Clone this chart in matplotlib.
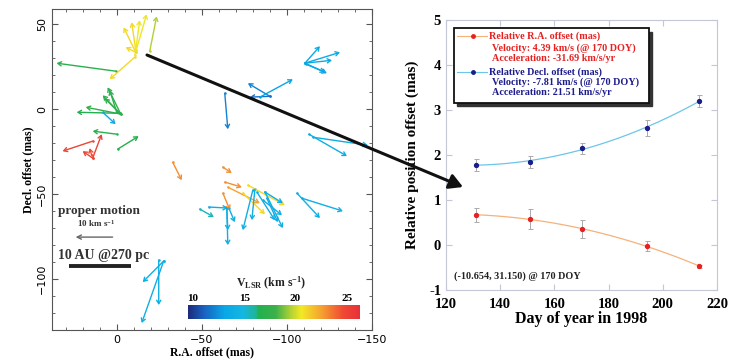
import matplotlib
matplotlib.use('Agg')
import matplotlib.pyplot as plt
import numpy as np
from matplotlib.colors import LinearSegmentedColormap, Normalize
from matplotlib.patches import Rectangle
from matplotlib.lines import Line2D
from matplotlib.ticker import MultipleLocator, FuncFormatter

plt.rcParams['mathtext.fontset'] = 'custom'
plt.rcParams['mathtext.rm'] = 'Liberation Serif:bold'
plt.rcParams['mathtext.bf'] = 'Liberation Serif:bold'
plt.rcParams['mathtext.it'] = 'Liberation Serif:bold'

# ── DATA: maser proper motions (mas), start -> arrow tip, colour = V_LSR ──
ra0 = [-11.2, -11.2, -11.2, -10.6, -11.2, -10.6, -19.4,
       0.6, -2.4, -1.8, -1.8, -2.4, -1.8, 0.0, 8.2, 0.0, -0.6,
       14.1, 14.1, 14.1, 14.7,
       -32.9, -62.4, -63.5, -65.3, -62.4, -77.1, -74.1,
       -48.8, -54.1, -64.7, -64.7, -65.9,
       -80.0, -81.2, -82.4, -87.1, -88.2, -87.1, -85.9,
       -105.9, -108.8,
       -63.5, -90.0, -90.0, -84.1,
       -110.6, -110.6, -110.6, -110.6, -111.2,
       -112.9, -115.3,
       -27.6, -24.7, -27.6]
dec0 = [33.5, 34.7, 34.7, 31.8, 33.5, 30.6, 34.1,
        22.4, -2.9, -2.4, -2.4, -2.9, -2.4, -1.8, -1.8, -14.7, -23.5,
        -18.8, -28.8, -28.8, -27.1,
        -31.2, -34.1, -42.9, -45.9, -49.4, -44.7, -49.4,
        -58.8, -57.6, -58.2, -58.2, -58.2,
        -47.6, -47.1, -48.8, -48.8, -52.4, -48.8, -53.5,
        -49.4, -52.4,
        9.4, 7.6, 7.6, 7.1,
        27.1, 27.1, 27.1, 27.1, 26.5,
        -14.7, -16.5,
        -89.4, -88.8, -89.4]
ra1 = [-4.1, -8.8, -13.5, -17.6, -5.3, 4.1, -23.5,
       35.3, 5.3, 8.2, 7.1, 18.2, 23.5, 4.1, 0.6, 14.1, -12.9,
       31.8, 8.8, 20.0, 15.9,
       -38.2, -67.6, -73.5, -84.1, -66.5, -98.8, -87.1,
       -57.1, -65.3, -65.3, -65.3, -69.4,
       -74.1, -79.4, -92.9, -97.6, -94.7, -97.6, -97.1,
       -119.4, -132.9,
       -65.3, -77.1, -78.2, -103.5,
       -119.4, -131.2, -126.5, -123.5, -122.4,
       -135.3, -147.6,
       -14.7, -24.7, -15.3]
dec1 = [48.2, 51.2, 52.4, 55.9, 36.5, 17.6, 54.7,
        27.1, 12.9, 8.2, 6.5, 1.2, -1.8, 11.2, -8.8, -12.9, -15.9,
        -24.7, -14.7, -24.7, -22.9,
        -41.8, -37.6, -45.9, -55.3, -59.4, -56.5, -61.8,
        -63.5, -58.2, -80.0, -71.2, -66.5,
        -71.2, -65.3, -65.3, -70.0, -66.5, -55.3, -62.4,
        -64.1, -60.0,
        -11.8, 15.3, 7.1, 17.6,
        37.1, 33.5, 28.8, 21.2, 21.8,
        -27.6, -21.2,
        -125.9, -115.3, -101.8]
vlsr = [21, 21, 20.5, 20.5, 21, 21, 19.5,
        17, 17, 17, 17.5, 17, 16.5, 17, 13.5, 17, 16.5,
        25, 25, 25, 24.5,
        23, 23, 23, 22.5, 23, 21, 21,
        15.5, 14, 14, 14, 14,
        14, 14, 14, 14, 14, 14, 14,
        14, 14,
        12, 12, 11.5, 13,
        13.5, 13.5, 13.5, 13, 13.2,
        13.8, 13.8,
        14, 14, 14]

# ── DATA: relative position offsets of the (-10.654, 31.150) spot ──
doy = [131, 151, 170, 194, 213.5]
ra_off = [0.67, 0.58, 0.35, -0.02, -0.47]
ra_err = [0.15, 0.23, 0.20, 0.12, 0.03]
dec_off = [1.78, 1.85, 2.15, 2.60, 3.20]
dec_err = [0.13, 0.13, 0.12, 0.18, 0.14]

W, H = 745, 361
fig = plt.figure(figsize=(W / 100, H / 100), dpi=100)
SERIF = 'Liberation Serif'

def fx(px):
    return px / W

def fy(py):
    return 1 - py / H

# ── LEFT: proper motion map ─────────────────────────────────
cmap = LinearSegmentedColormap.from_list('vlsr', [
    (0.00, '#1b2a7a'), (0.09, '#1860c0'), (0.21, '#0aa6e6'),
    (0.32, '#14b6e2'), (0.39, '#1fb59a'), (0.41, '#22b04e'),
    (0.51, '#3cb04a'), (0.60, '#b4d232'), (0.66, '#f2e925'),
    (0.78, '#f5a030'), (0.90, '#f04a33'), (1.00, '#e8303a')])
norm = Normalize(9.5, 26.3)

ax = fig.add_axes([fx(52), fy(330), fx(320), 321 / H])
for x0, y0, x1, y1, v in zip(ra0, dec0, ra1, dec1, vlsr):
    c = cmap(norm(v))
    ax.annotate('', xy=(x1, y1), xytext=(x0, y0),
                arrowprops=dict(arrowstyle='->,head_length=0.25,head_width=0.15',
                                color=c, lw=1.0, shrinkA=0, shrinkB=0))
    ax.plot(x0, y0, 'o', ms=1.8, color=c, mec='none')

ax.set_xlim(38, -150)
ax.set_ylim(-130, 59)
ax.xaxis.set_major_locator(MultipleLocator(50))
ax.xaxis.set_minor_locator(MultipleLocator(10))
ax.yaxis.set_major_locator(MultipleLocator(50))
ax.yaxis.set_minor_locator(MultipleLocator(10))
ax.tick_params(which='both', direction='in', top=True, right=True,
               labelsize=8, color='#555555')
ax.tick_params(which='major', length=4)
ax.tick_params(which='minor', length=2.5)
for lab in ax.get_yticklabels():
    lab.set_rotation(90)
    lab.set_va('center')
for s in ax.spines.values():
    s.set_color('#555555')
    s.set_linewidth(0.8)
ax.set_xlabel('R.A. offset (mas)', family=SERIF, fontweight='bold',
              fontsize=8.5, labelpad=1)
ax.set_ylabel('Decl. offset (mas)', family=SERIF, fontweight='bold',
              fontsize=8.5, labelpad=2)

ax.text(34.7, -60, 'proper motion', family=SERIF, fontweight='bold',
        fontsize=9.5, color='#333333', va='center')
ax.text(23.5, -67.5, r'10 km s$^{-1}$', family=SERIF, fontweight='bold',
        fontsize=6.5, color='#333333', va='center')
ax.annotate('', xy=(24.1, -75.3), xytext=(2.4, -75.3),
            arrowprops=dict(arrowstyle='->,head_length=0.3,head_width=0.15',
                            color='#666666', lw=1.0, shrinkA=0, shrinkB=0))
ax.text(34.7, -86, '10 AU @270 pc', family=SERIF, fontweight='bold',
        fontsize=10, color='#333333', va='center')
ax.plot([28.2, -8.2], [-92.4, -92.4], color='#222222', lw=2.8,
        solid_capstyle='butt')

cax = fig.add_axes([fx(188), fy(319), fx(172), 14 / H])
sm = matplotlib.cm.ScalarMappable(norm=norm, cmap=cmap)
cb = fig.colorbar(sm, cax=cax, orientation='horizontal')
cb.outline.set_visible(False)
cb.set_ticks([10, 15, 20, 25])
cax.xaxis.set_ticks_position('top')
cax.tick_params(length=0, pad=1.5, labelsize=8)
for lab in cax.get_xticklabels():
    lab.set_family(SERIF)
    lab.set_fontweight('bold')
fig.text(fx(271), fy(283), r'V$_{\rm LSR}$ (km s$^{-1}$)', family=SERIF,
         fontweight='bold', fontsize=8.5, ha='center', va='center',
         color='#222222')

# ── RIGHT: offsets vs day of year ──────────────────────────
bx = fig.add_axes([fx(446), fy(290), fx(271), 270 / H])
red, navy = '#e82020', '#1c1c8c'
ra_line, dec_line = '#f5b27a', '#6cc6e8'

tt = np.linspace(min(doy), max(doy), 200)
ra_fit = np.polyval(np.polyfit(doy, ra_off, 2), tt)
dec_fit = np.polyval(np.polyfit(doy, dec_off, 2), tt)
bx.plot(tt, ra_fit, color=ra_line, lw=0.9)
bx.plot(tt, dec_fit, color=dec_line, lw=0.9)
bx.errorbar(doy, ra_off, yerr=ra_err, fmt='o', ms=2.8, color=red,
            ecolor='#aaaaaa', elinewidth=0.7, capsize=1.8, capthick=0.7)
bx.errorbar(doy, dec_off, yerr=dec_err, fmt='o', ms=2.8, color=navy,
            ecolor='#aaaaaa', elinewidth=0.7, capsize=1.8, capthick=0.7)

bx.set_xlim(120, 220)
bx.set_ylim(-1, 5)
bx.xaxis.set_major_locator(MultipleLocator(20))
bx.yaxis.set_major_locator(MultipleLocator(1))
bx.yaxis.set_major_formatter(FuncFormatter(lambda v, p: f'{v:.0f}'))
bx.tick_params(direction='in', top=True, right=True, length=4,
               color='#c4c8d6', labelsize=10.5)
bx.tick_params(axis='x', pad=6)
for lab in bx.get_xticklabels() + bx.get_yticklabels():
    lab.set_family(SERIF)
    lab.set_fontweight('bold')
for s in bx.spines.values():
    s.set_color('#c4c8d6')
bx.set_xlabel('Day of year in 1998', family=SERIF, fontweight='bold',
              fontsize=11.5, labelpad=0)
bx.set_ylabel('Relative position offset (mas)', family=SERIF,
              fontweight='bold', fontsize=11, labelpad=7)

# legend box drawn by hand (multi-line coloured entries)
lx0, ly0, lw_, lh_ = 0.030, 0.693, 0.719, 0.277
bx.add_patch(Rectangle((lx0 + 0.011, ly0 - 0.013), lw_, lh_,
                       transform=bx.transAxes, color='#333333', zorder=4))
bx.add_patch(Rectangle((lx0, ly0), lw_, lh_, transform=bx.transAxes,
                       facecolor='white', edgecolor='#111111', lw=1.3,
                       zorder=5))
for yy, lc, mc in [(0.941, ra_line, red), (0.807, dec_line, navy)]:
    bx.add_line(Line2D([0.041, 0.151], [yy, yy], color=lc, lw=0.8,
                       transform=bx.transAxes, zorder=6))
    bx.add_line(Line2D([0.1], [yy], marker='o', ms=2.5, color=mc,
                       transform=bx.transAxes, zorder=6))
legend_lines = [
    (0.159, 0.941, 'Relative R.A. offset (mas)', red),
    (0.170, 0.896, 'Velocity: 4.39 km/s (@ 170 DOY)', red),
    (0.170, 0.859, 'Acceleration: -31.69 km/s/yr', red),
    (0.159, 0.807, 'Relative Decl. offset (mas)', navy),
    (0.170, 0.770, 'Velocity: -7.81 km/s (@ 170 DOY)', navy),
    (0.170, 0.730, 'Acceleration: 21.51 km/s/yr', navy),
]
for tx, ty, s, c in legend_lines:
    bx.text(tx, ty, s, transform=bx.transAxes, family=SERIF,
            fontweight='bold', fontsize=7.3, color=c, va='center', zorder=6)
bx.text(0.030, 0.052, '(-10.654, 31.150) @ 170 DOY', transform=bx.transAxes,
        family=SERIF, fontweight='bold', fontsize=7.3, color='#222222',
        va='center')

# ── connecting arrow ──────────────────────────────────────
fig.patches.append(matplotlib.patches.FancyArrowPatch(
    (fx(147), fy(55)), (fx(463), fy(187)), transform=fig.transFigure,
    arrowstyle='-|>,head_length=8,head_width=4.5', color='#111111',
    lw=2.2, shrinkA=0, shrinkB=0, zorder=10))

fig.savefig('out.png', dpi=100)
